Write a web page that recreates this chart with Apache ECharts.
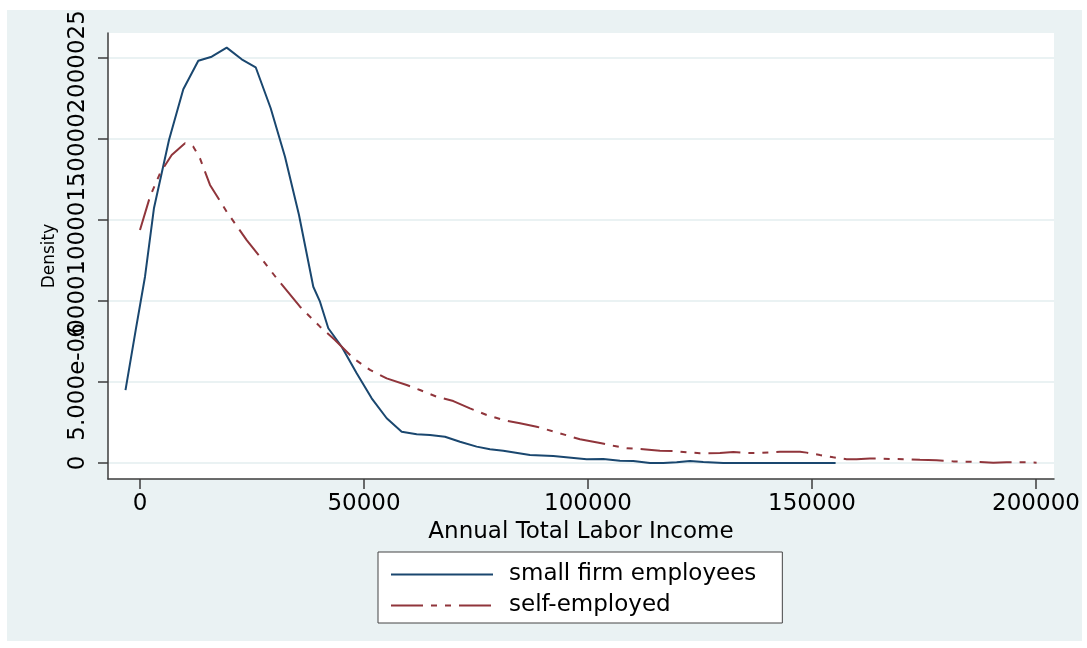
<!DOCTYPE html>
<html lang="en">
<head>
<meta charset="UTF-8">
<title>Annual Total Labor Income density</title>
<script src="https://cdn.jsdelivr.net/npm/echarts@6/dist/echarts.min.js"></script>
<style>
  html, body { margin: 0; padding: 0; background: #fff; }
  #main { width: 1087px; height: 648px; }
</style>
</head>
<body>
<div id="main"></div>
<script type="text/javascript">
// kernel density of income
// densities are kept in units of 1e-6 (avoids float rounding of tiny ticks)
var empIncome = [-3240, -960, 1116, 3125, 6473, 9665, 13013, 16003, 19351, 22699, 25824, 29172, 32364, 35489, 38681,
    40176, 42030, 45020, 48367, 51715, 55063, 58411, 61759, 64728, 68076, 71424, 75147, 78120, 81089, 87048,
    92249, 99700, 103415, 107136, 110103, 113832, 116800, 119790, 122760, 125730, 130200, 136152, 143583,
    147312, 151037, 155270];
var empDensity = [4.50, 8.20, 11.49, 15.73, 19.92, 23.05, 24.81, 25.06, 25.62, 24.90,
    24.41, 21.88, 18.89, 15.30, 10.87, 9.95, 8.31, 7.17, 5.53, 3.99, 2.76,
    1.93, 1.77, 1.73, 1.62, 1.31, 1.01, 0.85, 0.76, 0.49, 0.43, 0.23, 0.25,
    0.14, 0.12, 0, 0, 0.04, 0.12, 0.06, 0, 0, 0, 0, 0, 0];

var selfIncome = [0, 2232, 4464, 7075, 10044, 11897, 13392, 15624, 19351, 23815, 26784, 30511, 35712, 40176, 43524,
    47615, 51336, 55063, 59527, 62496, 66222, 69935, 73656, 77383, 81089, 84816, 88543, 93744, 98208, 103000,
    105640, 108630, 112330, 116064, 119040, 122021, 124992, 129456, 132430, 135420, 138384, 142848, 147312,
    148800, 151776, 154750, 157730, 159960, 162936, 165168, 167780, 171128, 174096, 177820, 181536, 184515,
    187488, 190460, 193440, 198270, 200130];
var selfDensity = [14.37, 16.43, 17.87, 19.00, 19.72, 19.51, 18.79, 17.15, 15.50, 13.75,
    12.72, 11.39, 9.64, 8.41, 7.59, 6.46, 5.74, 5.22, 4.81, 4.50, 4.09,
    3.82, 3.37, 2.96, 2.65, 2.45, 2.24, 1.83, 1.46, 1.22, 1.07, 0.91, 0.85,
    0.76, 0.74, 0.66, 0.60, 0.62, 0.68, 0.62, 0.62, 0.70, 0.70, 0.64, 0.49,
    0.35, 0.23, 0.23, 0.27, 0.27, 0.25, 0.23, 0.20, 0.17, 0.10, 0.08,
    0.06, 0.02, 0.04, 0.04, 0.02];

var xTicks = [0, 50000, 100000, 150000, 200000];
var yTicks = [0, 5, 10, 15, 20, 25];
var yTickLabels = ['0', '5.000e-06', '.00001', '.000015', '.00002', '.000025'];

function pairs(xs, ys) {
    var out = [];
    for (var i = 0; i < xs.length; i++) out.push([xs[i], ys[i]]);
    return out;
}

// the stata labels overlap each other; echarts drops overlapping end labels,
// so split them over two stacked axes that never overlap on their own
var yTicksEven = yTicks.filter(function (v, i) { return i % 2 === 0; });
var yTicksOdd = yTicks.filter(function (v, i) { return i % 2 === 1; });

var font = 'DejaVu Sans';
var axisColor = '#3c3c3c';
var yMin = -0.987, yMax = 26.523;

function yLabel(v) {
    var i = yTicks.indexOf(v);
    return i >= 0 ? yTickLabels[i] : '';
}

var myChart = echarts.init(document.getElementById('main'), null, { renderer: 'canvas' });

var option = {
    backgroundColor: '#ffffff',
    animation: false,
    // stata-like outer panel
    graphic: [{
        type: 'rect',
        left: 7, top: 10,
        shape: { width: 1075, height: 631 },
        style: { fill: '#eaf2f3' },
        z: -10
    }],
    grid: {
        left: 108, right: 33, top: 33, bottom: 169,
        show: true,
        backgroundColor: '#ffffff',
        borderWidth: 0,
        containLabel: false,
        outerBoundsMode: 'none'
    },
    legend: {
        orient: 'vertical',
        left: 378, top: 552,
        padding: [11, 26, 6, 12],
        itemGap: 8,
        itemWidth: 102,
        itemHeight: 14,
        itemStyle: { opacity: 0 },
        backgroundColor: '#ffffff',
        borderColor: '#444444',
        borderWidth: 1,
        borderRadius: 0,
        textStyle: { fontFamily: font, fontSize: 23, color: '#000', padding: [0, 0, 0, 11] },
        data: ['small firm employees', 'self-employed']
    },
    xAxis: {
        type: 'value',
        min: -7143, max: 204018,
        name: 'Annual Total Labor Income',
        nameLocation: 'middle',
        nameGap: 32,
        nameTextStyle: { fontFamily: font, fontSize: 23, color: '#000' },
        axisLine: { show: true, onZero: false, lineStyle: { color: axisColor, width: 1.5 } },
        axisTick: { show: true, length: 10, customValues: xTicks, lineStyle: { color: axisColor, width: 1.5 } },
        axisLabel: {
            customValues: xTicks, margin: 14, fontFamily: font, fontSize: 23, color: '#000',
            formatter: function (v) { return String(v); }
        },
        splitLine: { show: false }
    },
    yAxis: [
        {
            type: 'value',
            position: 'left',
            min: yMin, max: yMax,
            name: 'Density',
            nameLocation: 'middle',
            nameRotate: 90,
            nameGap: 50,
            nameTextStyle: { fontFamily: font, fontSize: 17, color: '#000' },
            axisLine: { show: true, onZero: false, lineStyle: { color: axisColor, width: 1.5 } },
            axisTick: { show: true, length: 10, customValues: yTicks, lineStyle: { color: axisColor, width: 1.5 } },
            axisLabel: {
                customValues: yTicksEven,
                rotate: 90, margin: 18,
                hideOverlap: false, showMinLabel: true, showMaxLabel: true,
                fontFamily: font, fontSize: 23, color: '#000',
                formatter: yLabel
            },
            splitLine: { show: true, lineStyle: { color: '#eaf2f3', width: 2 } }
        },
        {
            type: 'value',
            position: 'left',
            offset: 0,
            min: yMin, max: yMax,
            axisLine: { show: false, onZero: false },
            axisTick: { show: false },
            axisLabel: {
                customValues: yTicksOdd,
                rotate: 90, margin: 18,
                hideOverlap: false, showMinLabel: true, showMaxLabel: true,
                fontFamily: font, fontSize: 23, color: '#000',
                formatter: yLabel
            },
            splitLine: { show: false }
        }
    ],
    series: [
        {
            name: 'small firm employees',
            type: 'line',
            data: pairs(empIncome, empDensity),
            symbol: 'none',
            showSymbol: false,
            lineStyle: { color: '#1a476f', width: 2 },
            itemStyle: { color: '#1a476f' }
        },
        {
            name: 'self-employed',
            type: 'line',
            data: pairs(selfIncome, selfDensity),
            symbol: 'none',
            showSymbol: false,
            lineStyle: { color: '#90353b', width: 2, type: [32, 8, 6, 8, 6, 8] },
            itemStyle: { color: '#90353b' }
        }
    ]
};

myChart.setOption(option);
</script>
</body>
</html>
